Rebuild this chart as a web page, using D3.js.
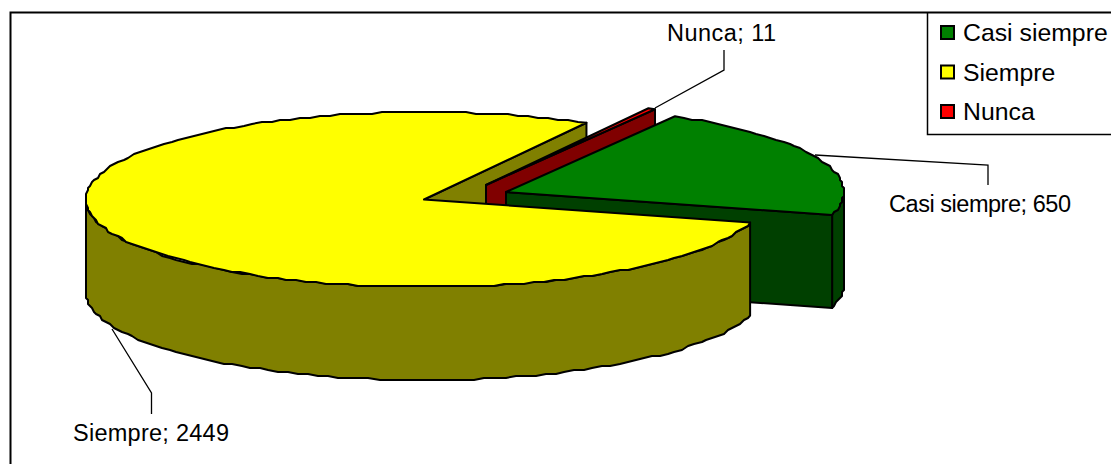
<!DOCTYPE html>
<html>
<head>
<meta charset="utf-8">
<script src="https://cdn.jsdelivr.net/npm/d3@7"></script>
<style>
	html, body { margin: 0; padding: 0; background: #fff; overflow: hidden; }
	text { font-family: "Liberation Sans", Arial, sans-serif; fill: #000; }
</style>
</head>
<body>
<svg id="chart" width="1111" height="464"></svg>
<script>
	// data
	const categories = ['Casi siempre', 'Siempre', 'Nunca'];
	const values = [650, 2449, 11];
	const topColors = ['#008000', '#ffff00', '#ff0000'];
	const sideColors = ['#004000', '#808000', '#800000'];

	const width = 1111, height = 464;
	const rx = 338, ry = 87.5, depth = 93;
	// pie centre of each slice once pulled out
	const centers = { 'Casi siempre': [506, 192], 'Siempre': [424, 199.5], 'Nunca': [486, 185] };

	const svg = d3.select('#chart');
	const topColor = d3.scaleOrdinal().domain(categories).range(topColors);
	const sideColor = d3.scaleOrdinal().domain(categories).range(sideColors);

	// first slice starts at 30 degrees, clockwise from the back of the pie
	const start = 30 * Math.PI / 180;
	const slices = d3.pie().sort(null).startAngle(start).endAngle(start + 2 * Math.PI)(values)
		.map((s, i) => ({ name: categories[i], a0: s.startAngle, a1: s.endAngle }));
	const bySlice = name => slices.find(s => s.name === name);

	const line = d3.line();
	const snap = 2; // the reference edge is a coarse polyline, not a true ellipse

	function point(c, a, dy = 0){
		return [c[0] + rx * Math.sin(a), c[1] - ry * Math.cos(a) + dy];
	}
	function arcPoints(c, a0, a1, dy = 0){
		const n = Math.max(1, Math.ceil(Math.abs(a1 - a0) / (1.8 * Math.PI / 180)));
		return d3.range(n + 1).map(i => {
			const p = point(c, a0 + (a1 - a0) * i / n, dy);
			if (i === 0 || i === n) return p;
			return [Math.round(p[0] / snap) * snap, Math.round(p[1] / snap) * snap];
		});
	}
	function poly(pts, fill){
		svg.append('path')
			.attr('d', line(pts) + 'Z')
			.attr('fill', fill)
			.attr('stroke', '#000')
			.attr('stroke-width', 2)
			.attr('stroke-linejoin', 'round');
	}
	// slice top
	function drawTop(s){
		const c = centers[s.name];
		poly([c].concat(arcPoints(c, s.a0, s.a1)), topColor(s.name));
	}
	// flat cut face at a given angle
	function drawWall(s, a){
		const c = centers[s.name], p = point(c, a);
		poly([c, p, [p[0], p[1] + depth], [c[0], c[1] + depth]], sideColor(s.name));
	}
	// outer rim between two angles
	function drawRim(s, a0, a1){
		const c = centers[s.name];
		poly(arcPoints(c, a0, a1).concat(arcPoints(c, a1, a0, depth)), sideColor(s.name));
	}

	const casi = bySlice('Casi siempre'), siempre = bySlice('Siempre'), nunca = bySlice('Nunca');

	// back to front
	drawWall(siempre, siempre.a1);
	drawWall(nunca, nunca.a1);
	drawTop(nunca);
	drawRim(casi, Math.PI / 2, casi.a1);
	drawWall(casi, casi.a1);
	drawTop(casi);
	drawRim(siempre, siempre.a0, 3 * Math.PI / 2);
	drawTop(siempre);

	// frame
	svg.append('path')
		.attr('d', 'M10.5,' + height + 'V12.5H' + width)
		.attr('fill', 'none').attr('stroke', '#000').attr('stroke-width', 2);

	// legend
	svg.append('path')
		.attr('d', 'M927.5,12V134.5H' + width)
		.attr('fill', 'none').attr('stroke', '#000').attr('stroke-width', 1.5);
	const legendBase = d3.scalePoint().domain(categories).range([41, 120]);
	const legend = svg.selectAll('g.legend').data(categories).join('g').attr('class', 'legend');
	legend.append('rect')
		.attr('x', 941).attr('y', d => legendBase(d) - 15)
		.attr('width', 13).attr('height', 13)
		.attr('fill', d => topColor(d))
		.attr('stroke', '#000').attr('stroke-width', 2);
	legend.append('text')
		.attr('x', 963).attr('y', d => legendBase(d))
		.attr('font-size', 24.8)
		.text(d => d);

	// data labels with leader lines
	const labels = [
		{ name: 'Nunca', x: 667, y: 41, w: 109, leader: [[655, 108], [724, 70], [724, 50]] },
		{ name: 'Casi siempre', x: 889, y: 212, w: 182, leader: [[815, 155], [988, 165], [988, 185]] },
		{ name: 'Siempre', x: 73, y: 441, w: 156, leader: [[112, 329], [151.5, 393], [151.5, 414]] }
	];
	labels.forEach(l => {
		svg.append('path').attr('d', line(l.leader))
			.attr('fill', 'none').attr('stroke', '#000').attr('stroke-width', 1.3);
		svg.append('text')
			.attr('x', l.x).attr('y', l.y)
			.attr('font-size', 23.5)
			.attr('textLength', l.w)
			.text(l.name + '; ' + values[categories.indexOf(l.name)]);
	});
</script>
</body>
</html>
